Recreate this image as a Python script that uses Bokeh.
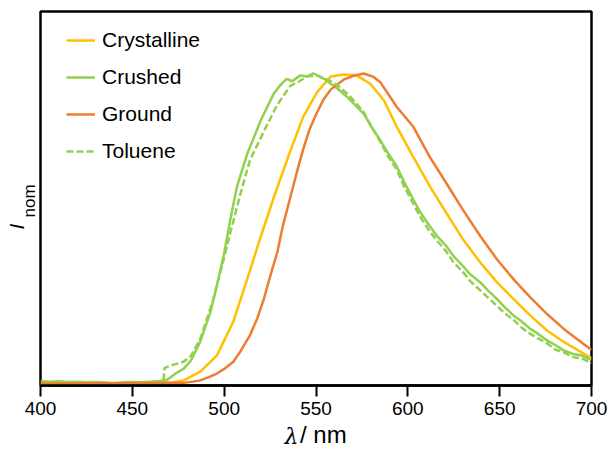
from bokeh.plotting import figure
from bokeh.models import Range1d, Legend, LegendItem, Title, FixedTicker
from bokeh.embed import file_html
from bokeh.resources import INLINE

# ---- data ----
cryst_x = [400, 470, 478, 487, 496, 505, 512.5, 520, 527, 536, 543, 550.6, 558, 565, 572,
           579.6, 587, 594, 603, 612, 621, 630, 639.5, 648.6, 657.6, 666.7, 675.8, 684.9, 700]
cryst_y = [0, 0.002, 0.01, 0.038, 0.09, 0.2, 0.336, 0.475, 0.6, 0.75, 0.86, 0.94, 0.99, 0.997, 0.994,
           0.967, 0.913, 0.828, 0.73, 0.636, 0.55, 0.465, 0.39, 0.326, 0.272, 0.219, 0.171, 0.134, 0.082]

crush_x = [400, 405, 410, 415, 420, 425, 430, 435, 440, 445, 450, 455, 460, 465, 469, 473, 478, 482,
           487, 492.5, 496, 500, 503.4, 507, 512.5, 520, 527, 531, 534, 537, 541.5, 545, 548.6, 552,
           556, 558, 562, 567, 571, 576, 580, 585, 589, 594, 598, 603, 607, 612, 616, 621, 625, 630,
           634, 639.5, 644, 648.6, 653, 657.6, 662, 666.7, 671, 675.8, 680, 684.9, 690, 695, 700]
crush_y = [0.008, 0.006, 0.007, 0.005, 0.006, 0.004, 0.005, 0.003, 0.0, 0.004, 0.005, 0.004, 0.006, 0.008,
           0.012, 0.03, 0.048, 0.075, 0.135, 0.23, 0.315, 0.42, 0.53, 0.636, 0.74, 0.85, 0.935, 0.965,
           0.983, 0.975, 0.994, 0.99, 1.0, 0.99, 0.978, 0.967, 0.95, 0.924, 0.9, 0.87, 0.83, 0.785, 0.745,
           0.70, 0.65, 0.593, 0.55, 0.507, 0.475, 0.443, 0.41, 0.379, 0.352, 0.326, 0.298, 0.272, 0.245,
           0.219, 0.2, 0.176, 0.16, 0.139, 0.125, 0.107, 0.095, 0.09, 0.075]

ground_x = [400, 478, 483, 487, 491, 496, 500, 505, 509, 514, 518, 521.6, 525, 529, 532, 536, 539.5, 543,
            546.5, 550.6, 554, 558, 565, 570, 576, 581, 585, 594, 603, 612, 621, 630, 639.5, 648.6,
            657.6, 666.7, 675.8, 684.9, 700]
ground_y = [0, 0.002, 0.006, 0.01, 0.019, 0.032, 0.047, 0.07, 0.105, 0.155, 0.21, 0.272, 0.345, 0.425,
            0.51, 0.6, 0.68, 0.755, 0.82, 0.875, 0.915, 0.948, 0.98, 0.992, 1.0, 0.99, 0.972, 0.892,
            0.828, 0.73, 0.646, 0.56, 0.475, 0.40, 0.336, 0.278, 0.224, 0.176, 0.108]

tol_x = [467, 467.5, 472, 478, 482, 487, 494, 498, 503.4, 509, 514, 523, 529, 536, 541, 545, 550.6,
         554, 558, 562, 567, 571, 576, 580, 585, 589, 594, 598, 603, 607, 612, 616, 621, 625, 630,
         634, 639.5, 644, 648.6, 653, 657.6, 662, 666.7, 671, 675.8, 680, 684.9, 690, 695, 700]
tol_y = [0.01, 0.05, 0.06, 0.07, 0.09, 0.144, 0.27, 0.36, 0.487, 0.615, 0.72, 0.83, 0.90, 0.96, 0.975,
         0.99, 0.994, 0.985, 0.975, 0.96, 0.935, 0.91, 0.875, 0.83, 0.78, 0.735, 0.69, 0.635, 0.58,
         0.535, 0.49, 0.46, 0.425, 0.39, 0.36, 0.33, 0.30, 0.275, 0.25, 0.225, 0.205, 0.18, 0.16,
         0.145, 0.13, 0.11, 0.10, 0.085, 0.08, 0.065]

x_ticks = [400, 450, 500, 550, 600, 650, 700]

labels = ["Crystalline", "Crushed", "Ground", "Toluene"]
colors = ["#FFC000", "#92D050", "#ED7D31", "#92D050"]

FONT = "Liberation Sans"

p = figure(frame_width=551, frame_height=374, output_backend="svg", toolbar_location=None,
           x_range=Range1d(400, 700), y_range=Range1d(-0.0065, 1.2), y_axis_location=None,
           min_border_left=40, min_border_right=21, min_border_top=11, min_border_bottom=67)
p.background_fill_color = "white"
p.border_fill_color = "white"
p.grid.visible = False
p.outline_line_color = "black"
p.outline_line_width = 2.5
p.outline_line_alpha = 1

ax = p.xaxis[0]
ax.ticker = FixedTicker(ticks=x_ticks)
ax.axis_line_width = 2.5
ax.axis_line_color = "black"
ax.major_tick_line_width = 2
ax.major_tick_line_color = "black"
ax.major_tick_out = 11
ax.major_tick_in = 0
ax.minor_tick_line_color = None
ax.major_label_text_font = FONT
ax.major_label_text_font_size = "19px"
ax.major_label_text_color = "black"
ax.major_label_standoff = 5

r1 = p.line(cryst_x, cryst_y, line_color=colors[0], line_width=2.5)
r2 = p.line(crush_x, crush_y, line_color=colors[1], line_width=2.5)
r3 = p.line(ground_x, ground_y, line_color=colors[2], line_width=2.5)
r4 = p.line(tol_x, tol_y, line_color=colors[3], line_width=2.5, line_dash="7 3")

legend = Legend(items=[LegendItem(label=l, renderers=[r]) for l, r in zip(labels, [r1, r2, r3, r4])],
                location=(26, 222), padding=10, spacing=13, margin=0,
                glyph_width=29, glyph_height=24, label_height=24, label_standoff=7,
                label_text_font=FONT, label_text_font_size="21px", label_text_color="black",
                border_line_color=None, background_fill_alpha=0)
p.add_layout(legend)

# y axis label: italic I with subscript "nom" (two titles in the left panel)
p.add_layout(Title(text="nom", text_font=FONT, text_font_size="17px", text_font_style="normal",
                   text_color="black", align="left", vertical_align="bottom",
                   offset=168, standoff=3), "left")
p.add_layout(Title(text="I", text_font=FONT, text_font_size="21px", text_font_style="italic",
                   text_color="black", align="left", vertical_align="bottom",
                   offset=156, standoff=-22), "left")

# x axis label: italic lambda followed by "/ nm" on the same line
p.add_layout(Title(text="λ", text_font="DejaVu Serif", text_font_size="22px",
                   text_font_style="italic", text_color="black", align="left",
                   vertical_align="top", offset=244, standoff=12), "below")
p.add_layout(Title(text="/ nm", text_font=FONT, text_font_size="24px", text_font_style="normal",
                   text_color="black", align="left", vertical_align="top",
                   offset=259.5, standoff=-72), "below")

open("out.html", "w").write(file_html(p, INLINE))
